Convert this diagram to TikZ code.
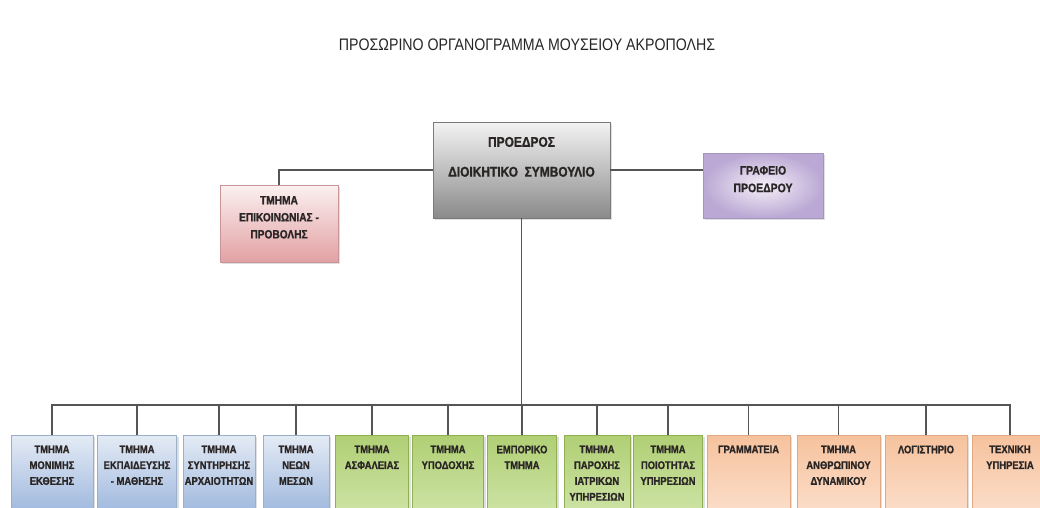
\documentclass[tikz,border=0pt]{standalone}
\usepackage{fontspec}
\setmainfont{Liberation Sans}[FakeStretch=0.85, BoldFeatures={FakeBold=1.2}]
\usetikzlibrary{shadows}

\definecolor{TextDark}{HTML}{2B2626}
\definecolor{Wire}{HTML}{555555}
\definecolor{BlueTop}{HTML}{E4EBF5}
\definecolor{BlueBot}{HTML}{A3BBDF}
\definecolor{BlueEdge}{HTML}{9AAFCB}
\definecolor{GreenTop}{HTML}{B0CF74}
\definecolor{GreenBot}{HTML}{CBE2A2}
\definecolor{GreenEdge}{HTML}{8FB052}
\definecolor{OrangeTop}{HTML}{F6C29D}
\definecolor{OrangeBot}{HTML}{FBDCC7}
\definecolor{OrangeEdge}{HTML}{E0A982}
\definecolor{PinkTop}{HTML}{FBF0F0}
\definecolor{PinkBot}{HTML}{E2A1A3}
\definecolor{PinkEdge}{HTML}{C99496}
\definecolor{LilacIn}{HTML}{F4F0F8}
\definecolor{LilacOut}{HTML}{BBA8D4}
\definecolor{LilacEdge}{HTML}{A593C0}
\definecolor{GrayTop}{HTML}{F3F3F3}
\definecolor{GrayBot}{HTML}{8A8A8A}
\definecolor{GrayEdge}{HTML}{7A7A7A}

\begin{document}
\begin{tikzpicture}[x=0.02cm, y=-0.02cm]

      \tikzset{unit/.style={rectangle, inner sep=0pt, line width=0.4pt,
                 drop shadow={opacity=0.25, shadow xshift=1.2pt, shadow yshift=-1.2pt}},
               txt/.style={font=\fontsize{6.3}{9}\selectfont\bfseries, text=TextDark, align=center, inner sep=2pt},
               dept/.style={unit, minimum height=1.46cm},
               bluebox/.style={dept, draw=BlueEdge, top color=BlueTop, bottom color=BlueBot},
               greenbox/.style={dept, draw=GreenEdge, top color=GreenTop, bottom color=GreenBot},
               orangebox/.style={dept, draw=OrangeEdge, top color=OrangeTop, bottom color=OrangeBot},
               wire/.style={draw=Wire, line width=1.1pt}}
      \useasboundingbox (0,0) rectangle (1040,507);
%% Title
      	\node[font=\fontsize{9.5}{11}\selectfont, text=black!85] (title) at (527,45) {ΠΡΟΣΩΡΙΝΟ ΟΡΓΑΝΟΓΡΑΜΜΑ ΜΟΥΣΕΙΟΥ ΑΚΡΟΠΟΛΗΣ};
%% Top level
      	\node[unit, draw=GrayEdge, top color=GrayTop, bottom color=GrayBot, minimum width=3.54cm, minimum height=1.92cm,
      	      label={[txt, font=\fontsize{8}{17}\selectfont\bfseries, anchor=north, yshift=-6.5pt]north:{ΠΡΟΕΔΡΟΣ\\ΔΙΟΙΚΗΤΙΚΟ\ \ ΣΥΜΒΟΥΛΙΟ}}] (pres) at (521.5,170) {};
      	\node[unit, draw=PinkEdge, top color=PinkTop, bottom color=PinkBot, minimum width=2.36cm, minimum height=1.54cm,
      	      label={[txt, font=\fontsize{6.8}{9.7}\selectfont\bfseries, anchor=north, yshift=-4.3pt]north:{ΤΜΗΜΑ\\ΕΠΙΚΟΙΝΩΝΙΑΣ -\\ΠΡΟΒΟΛΗΣ}}] (comm) at (279,223.5) {};
      	\node[unit, draw=LilacEdge, inner color=LilacIn, outer color=LilacOut, minimum width=2.4cm, minimum height=1.3cm,
      	      label={[txt, font=\fontsize{7}{10}\selectfont\bfseries, anchor=north, yshift=-5.4pt]north:{ΓΡΑΦΕΙΟ\\ΠΡΟΕΔΡΟΥ}}] (office) at (763,185.5) {};
%% Departments
      	\node[bluebox, minimum width=1.64cm, label={[txt, anchor=north, yshift=-4pt]north:{ΤΜΗΜΑ\\ΜΟΝΙΜΗΣ\\ΕΚΘΕΣΗΣ}}] (d1) at (52,471.5) {};
      	\node[bluebox, minimum width=1.58cm, label={[txt, anchor=north, yshift=-4pt]north:{ΤΜΗΜΑ\\ΕΚΠΑΙΔΕΥΣΗΣ\\- ΜΑΘΗΣΗΣ}}] (d2) at (137,471.5) {};
      	\node[bluebox, minimum width=1.44cm, label={[txt, anchor=north, yshift=-4pt]north:{ΤΜΗΜΑ\\ΣΥΝΤΗΡΗΣΗΣ\\ΑΡΧΑΙΟΤΗΤΩΝ}}] (d3) at (219,471.5) {};
      	\node[bluebox, minimum width=1.32cm, label={[txt, anchor=north, yshift=-4pt]north:{ΤΜΗΜΑ\\ΝΕΩΝ\\ΜΕΣΩΝ}}] (d4) at (296,471.5) {};
      	\node[greenbox, minimum width=1.46cm, label={[txt, anchor=north, yshift=-4pt]north:{ΤΜΗΜΑ\\ΑΣΦΑΛΕΙΑΣ}}] (d5) at (372,471.5) {};
      	\node[greenbox, minimum width=1.42cm, label={[txt, anchor=north, yshift=-4pt]north:{ΤΜΗΜΑ\\ΥΠΟΔΟΧΗΣ}}] (d6) at (448,471.5) {};
      	\node[greenbox, minimum width=1.38cm, label={[txt, anchor=north, yshift=-4pt]north:{ΕΜΠΟΡΙΚΟ\\ΤΜΗΜΑ}}] (d7) at (522,471.5) {};
      	\node[greenbox, minimum width=1.32cm, label={[txt, anchor=north, yshift=-4pt]north:{ΤΜΗΜΑ\\ΠΑΡΟΧΗΣ\\ΙΑΤΡΙΚΩΝ\\ΥΠΗΡΕΣΙΩΝ}}] (d8) at (597,471.5) {};
      	\node[greenbox, minimum width=1.38cm, label={[txt, anchor=north, yshift=-4pt]north:{ΤΜΗΜΑ\\ΠΟΙΟΤΗΤΑΣ\\ΥΠΗΡΕΣΙΩΝ}}] (d9) at (668,471.5) {};
      	\node[orangebox, minimum width=1.66cm, label={[txt, anchor=north, yshift=-4pt]north:{ΓΡΑΜΜΑΤΕΙΑ}}] (d10) at (748.5,471.5) {};
      	\node[orangebox, minimum width=1.66cm, label={[txt, anchor=north, yshift=-4pt]north:{ΤΜΗΜΑ\\ΑΝΘΡΩΠΙΝΟΥ\\ΔΥΝΑΜΙΚΟΥ}}] (d11) at (838.5,471.5) {};
      	\node[orangebox, minimum width=1.64cm, label={[txt, anchor=north, yshift=-4pt]north:{ΛΟΓΙΣΤΗΡΙΟ}}] (d12) at (926,471.5) {};
      	\node[orangebox, minimum width=1.52cm, label={[txt, anchor=north, yshift=-4pt]north:{ΤΕΧΝΙΚΗ\\ΥΠΗΡΕΣΙΑ}}] (d13) at (1010,471.5) {};
%Edges
      	\coordinate (bus) at (521.5,405);
		\draw[wire] (pres) -| (comm);
		\draw[wire] (pres.east) -- (pres.east -| office.west);
		\draw[wire] (pres) -- (bus);
		\foreach \i in {1,...,13}
		  \draw[wire] (bus) -| (d\i);

	\end{tikzpicture}
\end{document}
